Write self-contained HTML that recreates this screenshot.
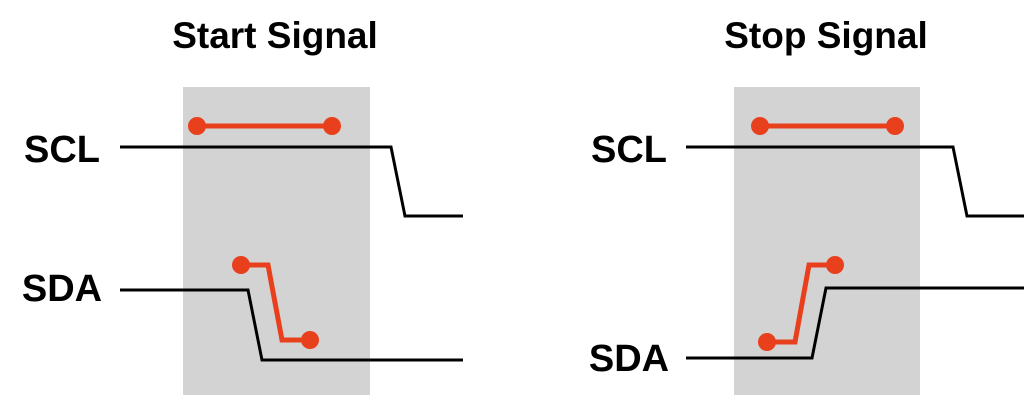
<!DOCTYPE html>
<html><head><meta charset="utf-8"><style>
html,body{margin:0;padding:0;background:#fff;width:1024px;height:404px;overflow:hidden}
text{font-family:"Liberation Sans",Arial,sans-serif;font-weight:bold;fill:#000}
</style></head><body>
<svg width="1024" height="404" viewBox="0 0 1024 404">
<rect x="183" y="87" width="187" height="308" fill="#d3d3d3"/>
<rect x="734" y="87" width="186" height="308" fill="#d3d3d3"/>
<text x="275" y="48" font-size="37" text-anchor="middle">Start Signal</text>
<text x="826" y="48" font-size="37" text-anchor="middle">Stop Signal</text>
<text x="62" y="162" font-size="38" text-anchor="middle">SCL</text>
<text x="62" y="301" font-size="38" text-anchor="middle">SDA</text>
<text x="629" y="162" font-size="38" text-anchor="middle">SCL</text>
<text x="629" y="371" font-size="38" text-anchor="middle">SDA</text>
<g fill="none" stroke="#000" stroke-width="3">
<polyline points="120,147 391,147 405,216 463,216"/>
<polyline points="120,290 248,290 262,360 463,360"/>
<polyline points="686,147 953,147 967,216 1024,216"/>
<polyline points="686,358 812,358 826,288 1024,288"/>
</g>
<g fill="none" stroke="#e8401c" stroke-width="5">
<line x1="197" y1="126" x2="332" y2="126"/>
<polyline points="241,265 268,265 282,340 310,340"/>
<line x1="760" y1="126" x2="895" y2="126"/>
<polyline points="767,342 795,342 809,265 835,265"/>
</g>
<g fill="#e8401c">
<circle cx="197" cy="126" r="9"/><circle cx="332" cy="126" r="9"/>
<circle cx="241" cy="265" r="9"/><circle cx="310" cy="340" r="9"/>
<circle cx="760" cy="126" r="9"/><circle cx="895" cy="126" r="9"/>
<circle cx="767" cy="342" r="9"/><circle cx="835" cy="265" r="9"/>
</g>
</svg>
</body></html>
